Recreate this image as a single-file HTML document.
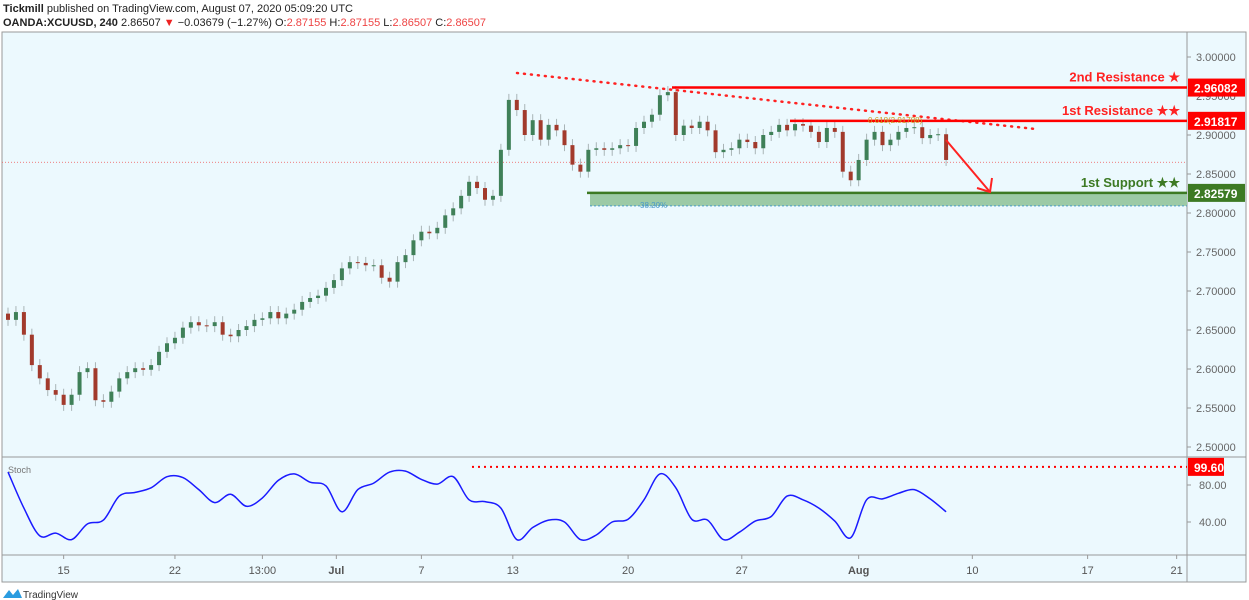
<!DOCTYPE html>
<html><head><meta charset="utf-8"><style>
body{margin:0;width:1249px;height:600px;background:#fff;font-family:"Liberation Sans",sans-serif;overflow:hidden;position:relative}
.hd{position:absolute;left:3px;font-size:11px;color:#222;white-space:nowrap}
</style></head><body>
<div class="hd" style="top:3px"><b>Tickmill</b> published on TradingView.com, August 07, 2020 05:09:20 UTC</div>
<div class="hd" style="top:17px"><b>OANDA:XCUUSD, 240</b> 2.86507 <span style="color:#e22">▼</span> −0.03679 (−1.27%) O:<span style="color:#e44">2.87155</span> H:<span style="color:#e44">2.87155</span> L:<span style="color:#e44">2.86507</span> C:<span style="color:#e44">2.86507</span></div>
<svg id="chart" width="1249" height="600" style="position:absolute;left:0;top:0" font-family="Liberation Sans, sans-serif"></svg>
<script>
const closes=[2.663,2.673,2.644,2.605,2.588,2.573,2.567,2.554,2.567,2.596,2.601,2.560,2.558,2.571,2.588,2.596,2.601,2.599,2.605,2.622,2.633,2.640,2.653,2.660,2.656,2.655,2.660,2.644,2.642,2.650,2.655,2.663,2.665,2.673,2.665,2.671,2.676,2.686,2.691,2.694,2.704,2.714,2.729,2.737,2.736,2.733,2.733,2.717,2.712,2.737,2.746,2.765,2.776,2.774,2.781,2.797,2.806,2.822,2.840,2.832,2.817,2.822,2.881,2.945,2.932,2.900,2.919,2.894,2.913,2.906,2.887,2.862,2.853,2.881,2.883,2.881,2.883,2.887,2.886,2.909,2.917,2.926,2.951,2.955,2.900,2.912,2.909,2.917,2.906,2.878,2.881,2.883,2.894,2.891,2.883,2.900,2.904,2.913,2.906,2.914,2.912,2.904,2.891,2.909,2.904,2.853,2.842,2.868,2.894,2.904,2.887,2.894,2.904,2.909,2.910,2.896,2.900,2.901,2.868];
const stoch=[94,55,25,28,21,38,42,68,72,77,89,88,75,61,70,57,66,85,92,83,79,51,75,82,94,95,86,81,89,64,62,55,21,34,42,40,21,26,40,43,64,92,77,43,42,21,29,41,46,68,64,55,41,23,64,65,71,75,65,51];
const priceTicks=[3.00,2.95,2.90,2.85,2.80,2.75,2.70,2.65,2.60,2.55,2.50];
const stochTicks=[80,40];
const timeLabels=["15","22","13:00","Jul","7","13","20","27","Aug","10","17","21"];
const timeIdx=[7,21,32,41.3,52,63.5,78,92.3,107,121.3,135.8,147];
const levels={r2:2.96082,r1:2.91817,s1:2.82579,fib:2.8091,last:2.86507};
const svg=document.getElementById('chart');const NS='http://www.w3.org/2000/svg';
function el(t,a,p){const e=document.createElementNS(NS,t);for(const k in a)e.setAttribute(k,a[k]);(p||svg).appendChild(e);return e}
const y=p=>57+(3-p)*780, x=i=>8+i*7.95, sy=v=>485+(80-v)*0.925;
const L=2,R=1187,T=32,MB=457,SB=555,B=582;
let bg=el('rect',{x:L,y:T,width:1244,height:B-T,fill:'#ecf9fe',stroke:'#999'});

el('line',{x1:L,y1:MB,x2:1246,y2:MB,stroke:'#999'});el('line',{x1:L,y1:SB,x2:1246,y2:SB,stroke:'#999'});
el('line',{x1:R,y1:T,x2:R,y2:B,stroke:'#999'});
priceTicks.forEach(p=>{el('line',{x1:R,x2:R+4,y1:y(p),y2:y(p),stroke:'#999'});const t=el('text',{x:1196,y:y(p)+4,'font-size':11,fill:'#666'});t.textContent=p.toFixed(5);});
stochTicks.forEach(v=>{el('line',{x1:R,x2:R+4,y1:sy(v),y2:sy(v),stroke:'#999'});const t=el('text',{x:1199,y:sy(v)+4,'font-size':11,fill:'#666'});t.textContent=v.toFixed(2);});
timeLabels.forEach((s,i)=>{const xx=x(timeIdx[i]);el('line',{x1:xx,x2:xx,y1:SB,y2:SB+4,stroke:'#999'});const t=el('text',{x:xx,y:574,'font-size':11,fill:'#555','text-anchor':'middle','font-weight':(s=='Jul'||s=='Aug')?'bold':'normal'});t.textContent=s;});
el('rect',{x:590,y:y(levels.s1),width:R-590,height:y(levels.fib)-y(levels.s1),fill:'#9ccaa6'});
el('line',{x1:590,x2:R,y1:y(levels.fib),y2:y(levels.fib),stroke:'#4a9ac8','stroke-dasharray':'2,2'});
let ft=el('text',{x:640,y:y(levels.fib)+2,'font-size':8,fill:'#4a9ac8'});ft.textContent='38.20%';
el('line',{x1:L,x2:R,y1:y(levels.last),y2:y(levels.last),stroke:'#e55','stroke-dasharray':'1,2','stroke-width':0.8});
closes.forEach((c,i)=>{const o=i?closes[i-1]:c+0.008;const up=c>=o;const xx=x(i);
 el('line',{x1:xx,x2:xx,y1:y(Math.max(o,c))-6,y2:y(Math.min(o,c))+6,stroke:'#a9b4b6'});
 const r=el('rect',{x:xx-2,y:Math.min(y(o),y(c)),width:4,height:Math.max(1,Math.abs(y(o)-y(c))),fill:up?'#3f8058':'#a23a2c'});
 });
el('line',{x1:517,y1:73,x2:1035,y2:129,stroke:'#f22','stroke-width':2.5,'stroke-dasharray':'1,6','stroke-linecap':'round'});
let r2=el('line',{x1:672,x2:R,y1:y(levels.r2),y2:y(levels.r2),stroke:'#f00','stroke-width':2.5});
let r1=el('line',{x1:790,x2:R,y1:y(levels.r1),y2:y(levels.r1),stroke:'#f00','stroke-width':2.5});
let s1=el('line',{x1:587,x2:R,y1:y(levels.s1),y2:y(levels.s1),stroke:'#3d7a24','stroke-width':2.5});
let ot=el('text',{x:868,y:y(levels.r1)+2,'font-size':8,fill:'#c9a020'});ot.textContent='0.618(2.91788)';
el('line',{x1:946,y1:140,x2:990,y2:192,stroke:'#f22','stroke-width':2});
el('polyline',{points:'977,188 990,192 992,178',fill:'none',stroke:'#f22','stroke-width':2});
function lab(t,yy,c,n){const e=el('text',{x:1180,y:yy,'font-size':13,'font-weight':'bold',fill:c,'text-anchor':'end'});e.textContent=t;}
lab('2nd Resistance ★',y(levels.r2)-6,'#f22','r2-label');lab('1st Resistance ★★',y(levels.r1)-6,'#f22','r1-label');lab('1st Support ★★',y(levels.s1)-6,'#3d7a24','s1-label');
function box(v,yy,c,n,w){el('rect',{x:R+1,y:yy-9,width:w||57,height:18,fill:c});const e=el('text',{x:R+7,y:yy+5,'font-size':12,'font-weight':'bold',fill:'#fff'});e.textContent=v;}
box('2.96082',y(levels.r2),'#f00','r2-price');box('2.91817',y(levels.r1),'#f00','r1-price');box('2.82579',y(levels.s1),'#3d7a24','s1-price');
el('line',{x1:472,x2:R,y1:sy(99.6),y2:sy(99.6),stroke:'#f00','stroke-width':2,'stroke-dasharray':'2,4'});
box('99.60',sy(99.6),'#f00','stoch-level',36);
let st=el('text',{x:8,y:473,'font-size':9,fill:'#777'});st.textContent='Stoch';
const P=stoch.map((v,i)=>[x(i*2),sy(v)]);
let d='M'+P[0][0]+','+P[0][1];
for(let i=0;i<P.length-1;i++){const p0=P[Math.max(0,i-1)],p1=P[i],p2=P[i+1],p3=P[Math.min(P.length-1,i+2)];
 d+='C'+(p1[0]+(p2[0]-p0[0])/6).toFixed(1)+','+(p1[1]+(p2[1]-p0[1])/6).toFixed(1)+' '+(p2[0]-(p3[0]-p1[0])/6).toFixed(1)+','+(p2[1]-(p3[1]-p1[1])/6).toFixed(1)+' '+p2[0].toFixed(1)+','+p2[1].toFixed(1);}
const sp=el('path',{d:d,fill:'none',stroke:'#1a1aff','stroke-width':1.5,'stroke-linejoin':'round'});
el('path',{d:'M3,598 L9,590 L13,595 L18,589 L22,598 Z',fill:'#2a9ce0'});
let tv=el('text',{x:23,y:598,'font-size':10,fill:'#333'});tv.textContent='TradingView';
</script>
</body></html>
